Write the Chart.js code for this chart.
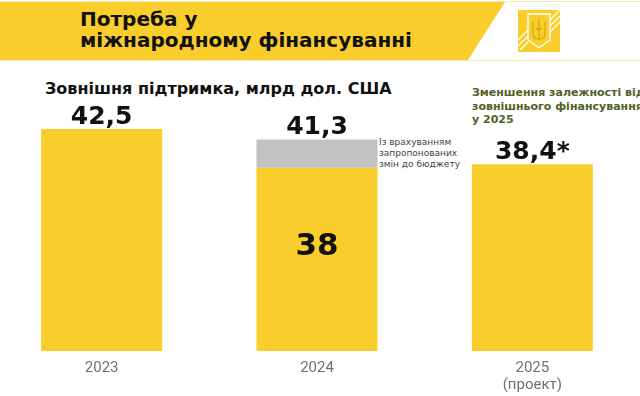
<!DOCTYPE html>
<html>
<head>
<meta charset="utf-8">
<script src="https://cdn.jsdelivr.net/npm/chart.js@4.4.1/dist/chart.umd.min.js"></script>
<style>
  body { margin: 0; width: 640px; height: 396px; overflow: hidden; background: #fff; position: relative; }
  .band { position: absolute; left: 0; top: 2px; width: 640px; height: 58px; background: #F9CD2C;
          clip-path: polygon(0 0, 505px 0, 468px 58px, 0 58px); }
  .rule { position: absolute; left: 0; width: 640px; height: 1px; background: #fbeab5; }
  .title { position: absolute; left: 80px; top: 9px; font: bold 20px/21px "DejaVu Sans"; color: #111; }
  .sub { position: absolute; left: 45px; top: 79px; font: bold 16px "DejaVu Sans"; color: #111; white-space: nowrap; }
  .note { position: absolute; left: 379px; top: 137px; font: 9px/11px "DejaVu Sans"; color: #444; }
  .green { position: absolute; left: 472px; top: 86px; font: bold 11px/13.5px "DejaVu Sans"; color: #4f6228; white-space: nowrap; }
  .logo { position: absolute; left: 518px; top: 10px; }
  #wrap { position: absolute; left: -6px; top: 0; width: 646px; height: 399px; }
</style>
</head>
<body>
<div class="rule" style="top:1px"></div>
<div class="band"></div>
<div class="rule" style="top:60px"></div>
<div class="title">Потреба у<br>міжнародному фінансуванні</div>
<svg class="logo" width="42" height="42" viewBox="0 0 42 42">
  <rect width="42" height="42" fill="#F9CD2C"/>
  <g stroke="#fff" stroke-width="1.2">
    <line x1="0" y1="30" x2="10" y2="20"/><line x1="0" y1="36" x2="10" y2="26"/><line x1="2" y1="40" x2="10" y2="32"/>
    <line x1="32" y1="10" x2="42" y2="0"/><line x1="32" y1="16" x2="42" y2="6"/><line x1="32" y1="22" x2="42" y2="12"/>
  </g>
  <path d="M10 4 H32 V30 L21 38 L10 30 Z" fill="none" stroke="#fff" stroke-width="1.4"/>
  <path d="M21 9 V30 M15 12 V24 Q15 29 21 29 Q27 29 27 24 V12 M18 18 Q21 22 24 18" fill="none" stroke="#d9a80f" stroke-width="1.3"/>
</svg>
<div class="sub">Зовнішня підтримка, млрд дол. США</div>
<div class="note">Із врахуванням<br>запропонованих<br>змін до бюджету</div>
<div class="green">Зменшення залежності від<br>зовнішнього фінансування<br>у 2025</div>
<div id="wrap"><canvas id="chart"></canvas></div>
<script>
// values, bn USD
const years = ['2023', '2024', ['2025', '(проект)']];
const support = [42.5, 38, 38.4];
const withBudgetChanges = [42.5, 41.3, 38.4];
const marks = ['', '', '*'];

const extra = withBudgetChanges.map((v, i) => +(v - support[i]).toFixed(1));
const fmt = v => String(v).replace('.', ',');

const labelsPlugin = {
  id: 'valueLabels',
  afterDatasetsDraw(chart) {
    const ctx = chart.ctx;
    const base = chart.getDatasetMeta(0).data;
    const top = chart.getDatasetMeta(1).data;
    const bottom = chart.chartArea.bottom;
    ctx.save();
    ctx.fillStyle = '#111';
    ctx.textAlign = 'center';
    ctx.textBaseline = 'alphabetic';
    ctx.font = 'bold 25px "DejaVu Sans"';
    top.forEach((el, i) => {
      ctx.fillText(fmt(withBudgetChanges[i]) + marks[i], el.x, el.y - 5);
      if (extra[i] > 0) {
        const b = base[i];
        ctx.save();
        ctx.font = 'bold 31px "DejaVu Sans"';
        ctx.textBaseline = 'middle';
        ctx.fillText(fmt(support[i]), b.x, b.y + (bottom - b.y) * 0.43);
        ctx.restore();
      }
    });
    ctx.restore();
  }
};

new Chart(document.getElementById('chart'), {
  type: 'bar',
  data: {
    labels: years,
    datasets: [
      { data: support, backgroundColor: '#F9CD2C', barPercentage: 0.562, categoryPercentage: 1 },
      { data: extra, backgroundColor: '#C2C2C2', barPercentage: 0.562, categoryPercentage: 1 }
    ]
  },
  options: {
    responsive: true,
    maintainAspectRatio: false,
    animation: false,
    layout: { padding: { top: 70, bottom: 5, left: 0, right: 0 } },
    scales: {
      x: {
        stacked: true,
        grid: { display: false },
        border: { display: false },
        ticks: { color: '#707070', font: { family: 'Roboto', size: 15, lineHeight: 1.1 }, padding: 1 }
      },
      y: { stacked: true, display: false, min: 16.6, max: 49.4 }
    },
    plugins: { legend: { display: false }, tooltip: { enabled: false } }
  },
  plugins: [labelsPlugin]
});
</script>
</body>
</html>
